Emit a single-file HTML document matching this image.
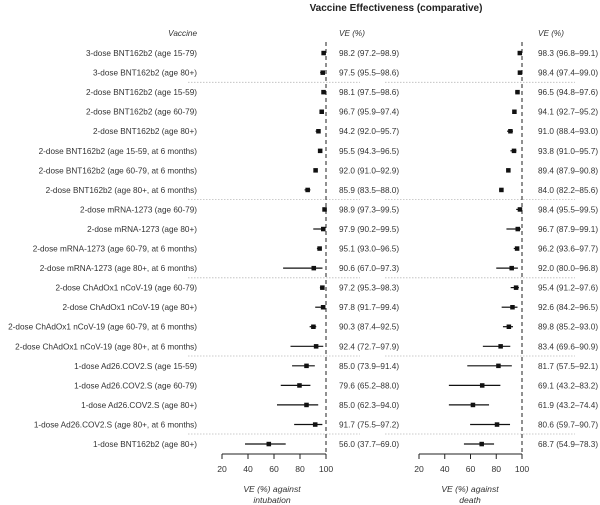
<!DOCTYPE html>
<html><head><meta charset="utf-8"><style>
html,body{margin:0;padding:0;background:#fff}
svg{display:block;font-family:"Liberation Sans",sans-serif;fill:#333}
.l{font-size:8.2px;text-anchor:end}
.v{font-size:8.2px}
.t{font-size:8.6px;text-anchor:middle}
.i{font-style:italic}
</style></head><body>
<svg width="600" height="505" viewBox="0 0 600 505" xmlns="http://www.w3.org/2000/svg">
<text x="396" y="11" style="font-size:10px;font-weight:bold;text-anchor:middle;fill:#222">Vaccine Effectiveness (comparative)</text>
<text x="197" y="36" class="l i">Vaccine</text>
<text x="339" y="36" class="v i">VE (%)</text>
<text x="538" y="36" class="v i">VE (%)</text>
<g stroke="#bbb" stroke-width="0.8" stroke-dasharray="1.5,1.5">
<line x1="188" x2="360" y1="82.3" y2="82.3"/><line x1="385" x2="575" y1="82.3" y2="82.3"/>
<line x1="188" x2="360" y1="199.6" y2="199.6"/><line x1="385" x2="575" y1="199.6" y2="199.6"/>
<line x1="188" x2="360" y1="277.8" y2="277.8"/><line x1="385" x2="575" y1="277.8" y2="277.8"/>
<line x1="188" x2="360" y1="356" y2="356"/><line x1="385" x2="575" y1="356" y2="356"/>
<line x1="188" x2="360" y1="434" y2="434"/><line x1="385" x2="575" y1="434" y2="434"/>
</g>
<g stroke="#222" stroke-width="1" stroke-dasharray="4,3">
<line x1="326" x2="326" y1="42" y2="454"/><line x1="522" x2="522" y1="42" y2="454"/>
</g>
<g stroke="#222" stroke-width="1">
<line x1="222" x2="326" y1="454" y2="454"/>
<line x1="222" x2="222" y1="454" y2="459"/><line x1="248" x2="248" y1="454" y2="459"/><line x1="274" x2="274" y1="454" y2="459"/><line x1="300" x2="300" y1="454" y2="459"/><line x1="326" x2="326" y1="454" y2="459"/>
<line x1="419" x2="522" y1="454" y2="454"/>
<line x1="419" x2="419" y1="454" y2="459"/><line x1="444.75" x2="444.75" y1="454" y2="459"/><line x1="470.5" x2="470.5" y1="454" y2="459"/><line x1="496.25" x2="496.25" y1="454" y2="459"/><line x1="522" x2="522" y1="454" y2="459"/>
</g>
<text x="222" y="472" class="t">20</text><text x="248" y="472" class="t">40</text><text x="274" y="472" class="t">60</text><text x="300" y="472" class="t">80</text><text x="326" y="472" class="t">100</text>
<text x="419" y="472" class="t">20</text><text x="444.75" y="472" class="t">40</text><text x="470.5" y="472" class="t">60</text><text x="496.25" y="472" class="t">80</text><text x="522" y="472" class="t">100</text>
<text x="272" y="492" class="t i">VE (%) against</text><text x="272" y="503" class="t i">intubation</text>
<text x="470" y="492" class="t i">VE (%) against</text><text x="470" y="503" class="t i">death</text>

<g>
<text x="197" y="56" class="l">3-dose BNT162b2 (age 15-79)</text>
<text x="197" y="75.6" class="l">3-dose BNT162b2 (age 80+)</text>
<text x="197" y="95.1" class="l">2-dose BNT162b2 (age 15-59)</text>
<text x="197" y="114.7" class="l">2-dose BNT162b2 (age 60-79)</text>
<text x="197" y="134.2" class="l">2-dose BNT162b2 (age 80+)</text>
<text x="197" y="153.8" class="l">2-dose BNT162b2 (age 15-59, at 6 months)</text>
<text x="197" y="173.3" class="l">2-dose BNT162b2 (age 60-79, at 6 months)</text>
<text x="197" y="192.9" class="l">2-dose BNT162b2 (age 80+, at 6 months)</text>
<text x="197" y="212.4" class="l">2-dose mRNA-1273 (age 60-79)</text>
<text x="197" y="232" class="l">2-dose mRNA-1273 (age 80+)</text>
<text x="197" y="251.5" class="l">2-dose mRNA-1273 (age 60-79, at 6 months)</text>
<text x="197" y="271.1" class="l">2-dose mRNA-1273 (age 80+, at 6 months)</text>
<text x="197" y="290.6" class="l">2-dose ChAdOx1 nCoV-19 (age 60-79)</text>
<text x="197" y="310.2" class="l">2-dose ChAdOx1 nCoV-19 (age 80+)</text>
<text x="197" y="329.7" class="l">2-dose ChAdOx1 nCoV-19 (age 60-79, at 6 months)</text>
<text x="197" y="349.3" class="l">2-dose ChAdOx1 nCoV-19 (age 80+, at 6 months)</text>
<text x="197" y="368.8" class="l">1-dose Ad26.COV2.S (age 15-59)</text>
<text x="197" y="388.4" class="l">1-dose Ad26.COV2.S (age 60-79)</text>
<text x="197" y="407.9" class="l">1-dose Ad26.COV2.S (age 80+)</text>
<text x="197" y="427.5" class="l">1-dose Ad26.COV2.S (age 80+, at 6 months)</text>
<text x="197" y="447" class="l">1-dose BNT162b2 (age 80+)</text>
</g>
<g>
<text x="339" y="56" class="v">98.2 (97.2–98.9)</text>
<text x="339" y="75.6" class="v">97.5 (95.5–98.6)</text>
<text x="339" y="95.1" class="v">98.1 (97.5–98.6)</text>
<text x="339" y="114.7" class="v">96.7 (95.9–97.4)</text>
<text x="339" y="134.2" class="v">94.2 (92.0–95.7)</text>
<text x="339" y="153.8" class="v">95.5 (94.3–96.5)</text>
<text x="339" y="173.3" class="v">92.0 (91.0–92.9)</text>
<text x="339" y="192.9" class="v">85.9 (83.5–88.0)</text>
<text x="339" y="212.4" class="v">98.9 (97.3–99.5)</text>
<text x="339" y="232" class="v">97.9 (90.2–99.5)</text>
<text x="339" y="251.5" class="v">95.1 (93.0–96.5)</text>
<text x="339" y="271.1" class="v">90.6 (67.0–97.3)</text>
<text x="339" y="290.6" class="v">97.2 (95.3–98.3)</text>
<text x="339" y="310.2" class="v">97.8 (91.7–99.4)</text>
<text x="339" y="329.7" class="v">90.3 (87.4–92.5)</text>
<text x="339" y="349.3" class="v">92.4 (72.7–97.9)</text>
<text x="339" y="368.8" class="v">85.0 (73.9–91.4)</text>
<text x="339" y="388.4" class="v">79.6 (65.2–88.0)</text>
<text x="339" y="407.9" class="v">85.0 (62.3–94.0)</text>
<text x="339" y="427.5" class="v">91.7 (75.5–97.2)</text>
<text x="339" y="447" class="v">56.0 (37.7–69.0)</text>
</g>
<g>
<text x="538" y="56" class="v">98.3 (96.8–99.1)</text>
<text x="538" y="75.6" class="v">98.4 (97.4–99.0)</text>
<text x="538" y="95.1" class="v">96.5 (94.8–97.6)</text>
<text x="538" y="114.7" class="v">94.1 (92.7–95.2)</text>
<text x="538" y="134.2" class="v">91.0 (88.4–93.0)</text>
<text x="538" y="153.8" class="v">93.8 (91.0–95.7)</text>
<text x="538" y="173.3" class="v">89.4 (87.9–90.8)</text>
<text x="538" y="192.9" class="v">84.0 (82.2–85.6)</text>
<text x="538" y="212.4" class="v">98.4 (95.5–99.5)</text>
<text x="538" y="232" class="v">96.7 (87.9–99.1)</text>
<text x="538" y="251.5" class="v">96.2 (93.6–97.7)</text>
<text x="538" y="271.1" class="v">92.0 (80.0–96.8)</text>
<text x="538" y="290.6" class="v">95.4 (91.2–97.6)</text>
<text x="538" y="310.2" class="v">92.6 (84.2–96.5)</text>
<text x="538" y="329.7" class="v">89.8 (85.2–93.0)</text>
<text x="538" y="349.3" class="v">83.4 (69.6–90.9)</text>
<text x="538" y="368.8" class="v">81.7 (57.5–92.1)</text>
<text x="538" y="388.4" class="v">69.1 (43.2–83.2)</text>
<text x="538" y="407.9" class="v">61.9 (43.2–74.4)</text>
<text x="538" y="427.5" class="v">80.6 (59.7–90.7)</text>
<text x="538" y="447" class="v">68.7 (54.9–78.3)</text>
</g>

<g transform="translate(196,0) scale(1.3,1)" fill="#111" stroke="#111">
<g stroke-width="1.2">
<line x1="97.2" x2="98.9" y1="53" y2="53"/><line x1="95.5" x2="98.6" y1="72.6" y2="72.6"/>
<line x1="97.5" x2="98.6" y1="92.1" y2="92.1"/><line x1="95.9" x2="97.4" y1="111.7" y2="111.7"/>
<line x1="92.0" x2="95.7" y1="131.2" y2="131.2"/><line x1="94.3" x2="96.5" y1="150.8" y2="150.8"/>
<line x1="91.0" x2="92.9" y1="170.3" y2="170.3"/><line x1="83.5" x2="88.0" y1="189.9" y2="189.9"/>
<line x1="97.3" x2="99.5" y1="209.4" y2="209.4"/><line x1="90.2" x2="99.5" y1="229" y2="229"/>
<line x1="93.0" x2="96.5" y1="248.5" y2="248.5"/><line x1="67.0" x2="97.3" y1="268.1" y2="268.1"/>
<line x1="95.3" x2="98.3" y1="287.6" y2="287.6"/><line x1="91.7" x2="99.4" y1="307.2" y2="307.2"/>
<line x1="87.4" x2="92.5" y1="326.7" y2="326.7"/><line x1="72.7" x2="97.9" y1="346.3" y2="346.3"/>
<line x1="73.9" x2="91.4" y1="365.8" y2="365.8"/><line x1="65.2" x2="88.0" y1="385.4" y2="385.4"/>
<line x1="62.3" x2="94.0" y1="404.9" y2="404.9"/><line x1="75.5" x2="97.2" y1="424.5" y2="424.5"/>
<line x1="37.7" x2="69.0" y1="444" y2="444"/>
</g>
<g stroke="none">
<rect x="96.45" y="50.8" width="3.5" height="4.5"/><rect x="95.75" y="70.4" width="3.5" height="4.5"/>
<rect x="96.35" y="89.9" width="3.5" height="4.5"/><rect x="94.95" y="109.5" width="3.5" height="4.5"/>
<rect x="92.45" y="129" width="3.5" height="4.5"/><rect x="93.75" y="148.6" width="3.5" height="4.5"/>
<rect x="90.25" y="168.1" width="3.5" height="4.5"/><rect x="84.15" y="187.7" width="3.5" height="4.5"/>
<rect x="97.15" y="207.2" width="3.5" height="4.5"/><rect x="96.15" y="226.8" width="3.5" height="4.5"/>
<rect x="93.35" y="246.3" width="3.5" height="4.5"/><rect x="88.85" y="265.9" width="3.5" height="4.5"/>
<rect x="95.45" y="285.4" width="3.5" height="4.5"/><rect x="96.05" y="305" width="3.5" height="4.5"/>
<rect x="88.55" y="324.5" width="3.5" height="4.5"/><rect x="90.65" y="344.1" width="3.5" height="4.5"/>
<rect x="83.25" y="363.6" width="3.5" height="4.5"/><rect x="77.85" y="383.2" width="3.5" height="4.5"/>
<rect x="83.25" y="402.7" width="3.5" height="4.5"/><rect x="89.95" y="422.3" width="3.5" height="4.5"/>
<rect x="54.25" y="441.8" width="3.5" height="4.5"/>
</g>
</g>

<g transform="translate(393.25,0) scale(1.2875,1)" fill="#111" stroke="#111">
<g stroke-width="1.2">
<line x1="96.8" x2="99.1" y1="53" y2="53"/><line x1="97.4" x2="99.0" y1="72.6" y2="72.6"/>
<line x1="94.8" x2="97.6" y1="92.1" y2="92.1"/><line x1="92.7" x2="95.2" y1="111.7" y2="111.7"/>
<line x1="88.4" x2="93.0" y1="131.2" y2="131.2"/><line x1="91.0" x2="95.7" y1="150.8" y2="150.8"/>
<line x1="87.9" x2="90.8" y1="170.3" y2="170.3"/><line x1="82.2" x2="85.6" y1="189.9" y2="189.9"/>
<line x1="95.5" x2="99.5" y1="209.4" y2="209.4"/><line x1="87.9" x2="99.1" y1="229" y2="229"/>
<line x1="93.6" x2="97.7" y1="248.5" y2="248.5"/><line x1="80.0" x2="96.8" y1="268.1" y2="268.1"/>
<line x1="91.2" x2="97.6" y1="287.6" y2="287.6"/><line x1="84.2" x2="96.5" y1="307.2" y2="307.2"/>
<line x1="85.2" x2="93.0" y1="326.7" y2="326.7"/><line x1="69.6" x2="90.9" y1="346.3" y2="346.3"/>
<line x1="57.5" x2="92.1" y1="365.8" y2="365.8"/><line x1="43.2" x2="83.2" y1="385.4" y2="385.4"/>
<line x1="43.2" x2="74.4" y1="404.9" y2="404.9"/><line x1="59.7" x2="90.7" y1="424.5" y2="424.5"/>
<line x1="54.9" x2="78.3" y1="444" y2="444"/>
</g>
<g stroke="none">
<rect x="96.55" y="50.8" width="3.5" height="4.5"/><rect x="96.65" y="70.4" width="3.5" height="4.5"/>
<rect x="94.75" y="89.9" width="3.5" height="4.5"/><rect x="92.35" y="109.5" width="3.5" height="4.5"/>
<rect x="89.25" y="129" width="3.5" height="4.5"/><rect x="92.05" y="148.6" width="3.5" height="4.5"/>
<rect x="87.65" y="168.1" width="3.5" height="4.5"/><rect x="82.25" y="187.7" width="3.5" height="4.5"/>
<rect x="96.65" y="207.2" width="3.5" height="4.5"/><rect x="94.95" y="226.8" width="3.5" height="4.5"/>
<rect x="94.45" y="246.3" width="3.5" height="4.5"/><rect x="90.25" y="265.9" width="3.5" height="4.5"/>
<rect x="93.65" y="285.4" width="3.5" height="4.5"/><rect x="90.85" y="305" width="3.5" height="4.5"/>
<rect x="88.05" y="324.5" width="3.5" height="4.5"/><rect x="81.65" y="344.1" width="3.5" height="4.5"/>
<rect x="79.95" y="363.6" width="3.5" height="4.5"/><rect x="67.35" y="383.2" width="3.5" height="4.5"/>
<rect x="60.15" y="402.7" width="3.5" height="4.5"/><rect x="78.85" y="422.3" width="3.5" height="4.5"/>
<rect x="66.95" y="441.8" width="3.5" height="4.5"/>
</g>
</g>
</svg>
</body></html>
